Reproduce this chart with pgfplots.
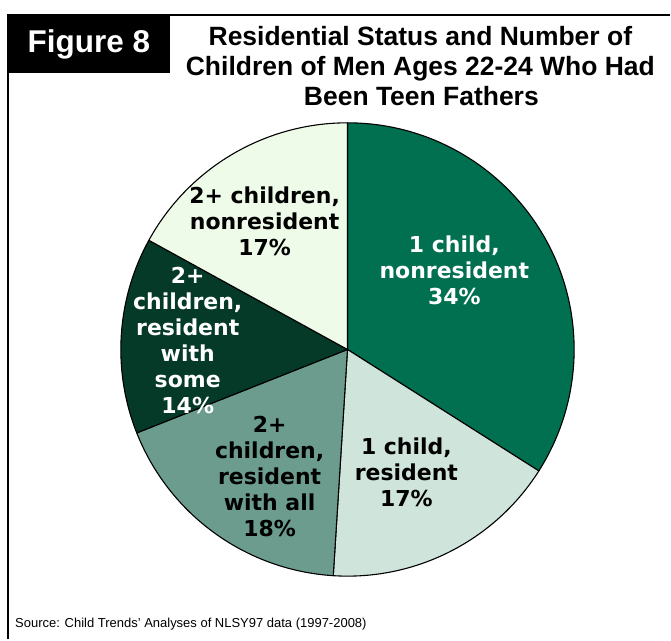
\documentclass[border=0pt]{standalone}
\usepackage{pgfplots}
\pgfplotsset{compat=1.18}
\usepackage{fontspec}
\setmainfont{Liberation Sans}
\newfontfamily\dvs{DejaVu Sans}
\definecolor{cA}{RGB}{0,112,80}
\definecolor{cB}{RGB}{207,228,218}
\definecolor{cC}{RGB}{107,156,142}
\definecolor{cD}{RGB}{5,58,40}
\definecolor{cE}{RGB}{238,251,233}
% start and end cumulative percentages of each slice
\newcommand{\pieslice}[3]{%
  \filldraw[fill=#3, draw=black, line width=1.1pt, line join=round]
    (348,290) -- ++({90-3.6*(#1)}:227pt)
    arc[start angle={90-3.6*(#1)}, end angle={90-3.6*(#2)}, radius=227pt] -- cycle;}
\begin{document}
\begin{tikzpicture}
\begin{axis}[hide axis, scale only axis, width=671pt, height=640pt,
  xmin=0, xmax=671, ymin=0, ymax=640, clip=false]
\path[fill=white] (0,0) rectangle (671,640);
% frame
\draw[line width=2pt] (8,0) -- (8,625) -- (671,625);
\fill[black] (8,625) rectangle (170,567);
\node[anchor=base, text=white, font=\bfseries\fontsize{31.5}{34}\selectfont] at (89,587) {Figure 8};
% title
\node[anchor=base, font=\bfseries\fontsize{26.5}{30}\selectfont] at (421,594) {Residential Status and Number of};
\node[anchor=base, font=\bfseries\fontsize{26.5}{30}\selectfont] at (421,564) {Children of Men Ages 22-24 Who Had};
\node[anchor=base, font=\bfseries\fontsize{26.5}{30}\selectfont] at (422,534) {Been Teen Fathers};
% pie: 34, 17, 18, 14, 17
\pieslice{0}{34}{cA}
\pieslice{34}{51}{cB}
\pieslice{51}{69}{cC}
\pieslice{69}{83}{cD}
\pieslice{83}{100}{cE}
% labels
\tikzset{lab/.style={align=center, inner sep=0pt, font=\dvs\bfseries\fontsize{22}{26}\selectfont}}
\node[lab, text=white] at (455,369) {1 child,\\nonresident\\34\%};
\node[lab] at (407,167) {1 child,\\resident\\17\%};
\node[lab] at (270,163) {2+\\children,\\resident\\with all\\18\%};
\node[lab, text=white] at (188,299) {2+\\children,\\resident\\with\\some\\14\%};
\node[lab] at (265,418) {2+ children,\\nonresident\\17\%};
% source
\node[anchor=base west, inner sep=0pt, font=\fontsize{13}{15}\selectfont] at (15,12) {Source: Child Trends’ Analyses of NLSY97 data (1997-2008)};
\end{axis}
\end{tikzpicture}
\end{document}
